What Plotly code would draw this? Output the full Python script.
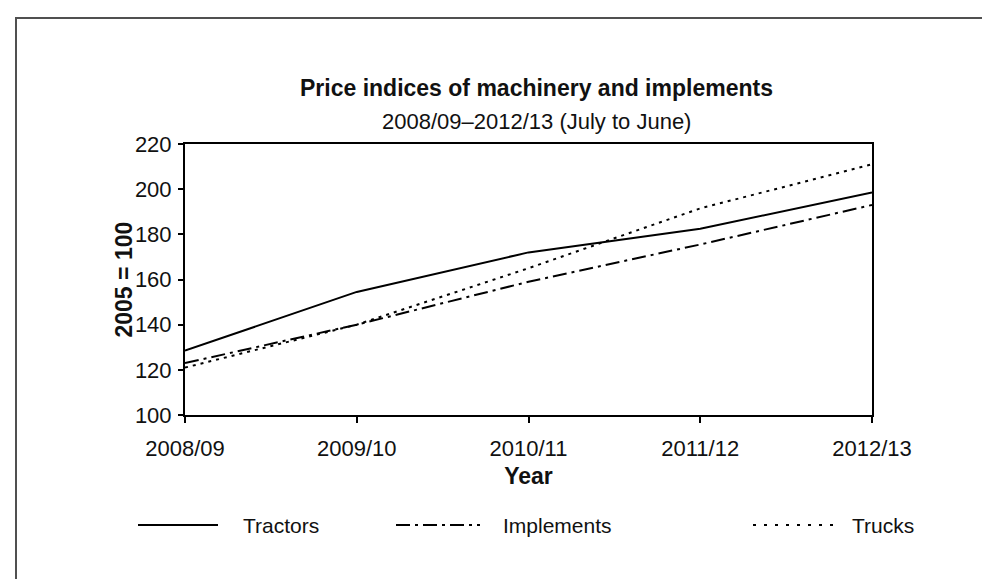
import plotly.graph_objects as go

years = ["2008/09", "2009/10", "2010/11", "2011/12", "2012/13"]
tractors = [128.5, 154.5, 172.0, 182.5, 198.5]
implements = [123.0, 140.0, 159.0, 175.5, 193.0]
trucks = [121.0, 140.0, 165.0, 191.5, 211.0]
y_ticks = [100, 120, 140, 160, 180, 200, 220]

series = [
    ("Tractors", tractors, "solid"),
    ("Implements", implements, "14px,5px,3px,5px"),
    ("Trucks", trucks, "3px,5px"),
]

FONT = "Liberation Sans, Arial, sans-serif"
INK = "#111111"

fig = go.Figure()
for name, vals, dash in series:
    fig.add_trace(go.Scatter(
        x=years, y=vals, name=name, mode="lines",
        line=dict(color="black", width=2, dash=dash),
        showlegend=False,
    ))

L, R, T, B = 177, 126, 136, 172
W, H = 990, 579
pw, ph = W - L - R, H - T - B

def px(x):
    return (x - L) / pw

def py(y):
    return (H - B - y) / ph

fig.update_layout(
    width=W, height=H,
    margin=dict(l=L, r=R, t=T, b=B),
    paper_bgcolor="white", plot_bgcolor="white",
    font=dict(family=FONT, size=22, color=INK),
    xaxis=dict(
        type="category", range=[0, len(years) - 1],
        showline=True, linecolor="black", linewidth=2, mirror=True,
        ticks="outside", ticklen=6, tickwidth=2, tickcolor="black",
        showgrid=False, zeroline=False,
        tickfont=dict(size=22, color=INK), ticklabelstandoff=7,
        title=dict(text="<b>Year</b>", font=dict(size=23, color=INK), standoff=7),
    ),
    yaxis=dict(
        range=[100, 220], tickvals=y_ticks,
        showline=True, linecolor="black", linewidth=2, mirror=True,
        ticks="outside", ticklen=5, tickwidth=2, tickcolor="black",
        showgrid=False, zeroline=False,
        tickfont=dict(size=22, color=INK), ticklabelstandoff=2,
    ),
)

# y-axis title placed next to the tick labels
fig.add_annotation(x=px(115), y=0.5, xref="paper", yref="paper",
                   xanchor="center", yanchor="middle", textangle=-90,
                   text="<b>2005 = 100</b>", showarrow=False,
                   font=dict(size=23, color=INK))

# titles
fig.add_annotation(x=px(528), y=py(80), xref="paper", yref="paper",
                   xanchor="center", yanchor="middle",
                   text="<b>Price indices of machinery and implements</b>",
                   showarrow=False, font=dict(size=23, color=INK))
fig.add_annotation(x=px(528), y=py(113), xref="paper", yref="paper",
                   xanchor="center", yanchor="middle",
                   text="2008/09\u20132012/13 (July to June)",
                   showarrow=False, font=dict(size=22, color=INK))

# legend drawn manually
legend_items = [
    ("Tractors", "solid", 130, 210, 233),
    ("Implements", "14px,5px,3px,5px", 388, 472, 493),
    ("Trucks", "3px,8px", 745, 825, 842),
]
ly = 517
for name, dash, x0, x1, tx in legend_items:
    fig.add_shape(type="line", xref="paper", yref="paper",
                  x0=px(x0), x1=px(x1), y0=py(ly), y1=py(ly),
                  line=dict(color="black", width=2, dash=dash))
    fig.add_annotation(x=px(tx), y=py(ly), xref="paper", yref="paper",
                       text=name, showarrow=False,
                       xanchor="left", yanchor="middle",
                       font=dict(size=21, color=INK))

# outer frame (partially cropped)
fig.add_shape(type="line", xref="paper", yref="paper",
              x0=px(8), x1=px(8), y0=py(9), y1=py(600),
              line=dict(color="#505050", width=2))
fig.add_shape(type="line", xref="paper", yref="paper",
              x0=px(7), x1=px(1000), y0=py(10), y1=py(10),
              line=dict(color="#505050", width=2))

fig.write_html("out.html")
